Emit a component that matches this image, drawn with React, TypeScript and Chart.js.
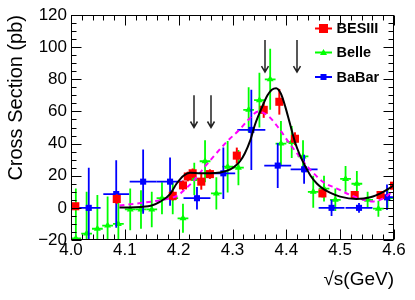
import { useEffect, useRef } from "react";
import { Chart, registerables } from "chart.js";

Chart.register(...registerables);

// ---------- data ----------
const besX = [4.008, 4.085, 4.189, 4.208, 4.217, 4.226, 4.242, 4.258, 4.308, 4.358, 4.387, 4.416, 4.467, 4.527, 4.575, 4.600];
const besY = [1.0, 5.5, 7.5, 14.0, 19.5, 21.5, 16.3, 21.0, 32.5, 61.0, 66.0, 43.0, 9.0, 8.0, 8.0, 13.8];
const besErr = [2, 3, 3, 3, 3, 3, 5, 3, 5, 5, 8, 4, 2.5, 2.5, 2.5, 2.5];

const belleX = [4.009, 4.029, 4.049, 4.068, 4.088, 4.110, 4.130, 4.150, 4.169, 4.189, 4.208, 4.229, 4.249, 4.270, 4.291, 4.311, 4.330, 4.350, 4.370, 4.390, 4.410, 4.431, 4.450, 4.470, 4.491, 4.510, 4.531, 4.551, 4.571, 4.588];
const belleY = [-19, -16, -13, -11, -10, -1, -1, -1, 6, 6, -6.5, 18, 29, 9, 25.6, 25, 61, 67, 80, 40, 41, 32, 10, 12, 5, 18, 15, 5, -0.5, 6];
const belleErr = [31, 26, 21, 18, 16, 13, 12, 11, 10, 10, 9, 10, 13, 10, 16, 11, 14, 17, 19, 14, 10, 10, 10, 8, 7, 8, 8, 5, 5, 6];
const belleXErr = 0.01;

const babarX = [4.033, 4.084, 4.134, 4.184, 4.234, 4.283, 4.335, 4.384, 4.433, 4.484, 4.535, 4.587];
const babarY = [0, 8.6, 16.3, 16.3, 6, 21.5, 48.5, 26.3, 24, 0, 0, 6.6];
const babarErr = [25, 21, 20, 15, 7, 16, 25, 14, 9, 5, 3, 8];
const babarXErr = [0.022, 0.024, 0.025, 0.025, 0.025, 0.022, 0.026, 0.025, 0.025, 0.024, 0.025, 0.015];

const fitX = [4.09, 4.11, 4.13, 4.15, 4.165, 4.184, 4.196, 4.209, 4.221, 4.24, 4.258, 4.277, 4.296, 4.305, 4.314, 4.323, 4.333, 4.342, 4.354, 4.365, 4.373, 4.381, 4.39, 4.398, 4.407, 4.416, 4.425, 4.432, 4.445, 4.457, 4.47, 4.481, 4.5, 4.53, 4.556, 4.58, 4.6];
const fitY = [0.3, 0.3, 0.6, 1.5, 3.7, 8.6, 15, 20, 21.8, 21.5, 21.5, 22, 24, 26, 29, 34, 42, 52, 62, 70, 73.5, 74.5, 71, 63, 52, 41, 33, 28, 20, 15, 11.5, 9.5, 7, 5.5, 6.6, 10, 14];

const dashX = [4.09, 4.13, 4.17, 4.19, 4.2, 4.21, 4.227, 4.246, 4.265, 4.289, 4.314, 4.33, 4.348, 4.367, 4.385, 4.404, 4.422, 4.441, 4.469, 4.494, 4.519, 4.543, 4.562, 4.577, 4.593, 4.6];
const dashY = [1.5, 3, 5, 6.5, 8, 11, 16.5, 24.5, 32, 41, 49, 55, 60, 57, 50, 41, 33, 25, 16, 12, 8, 5, 4, 5.4, 9, 10.5];

const arrowX = [4.229, 4.26, 4.361, 4.42];
const arrowTop = [70, 70, 104.5, 104.5];
const arrowBottom = [50, 50, 84.5, 84.5];

const legendLabels = ["BESIII", "Belle", "BaBar"];
const legendColors = ["#ff0000", "#00ff00", "#0000ff"];

const xMin = 4.0, xMax = 4.6, xStep = 0.1;
const yMin = -20, yMax = 120, yStep = 20;

const FONT = "'Liberation Sans', Arial, Helvetica, sans-serif";

const errorBarPlugin = {
  id: "errbars",
  beforeDatasetDraw(chart: any, args: any) {
    const ds = chart.data.datasets[args.index];
    if (!ds.errY) return;
    const xs = chart.scales.x, ys = chart.scales.y, ctx = chart.ctx, a = chart.chartArea;
    ctx.save();
    ctx.beginPath();
    ctx.rect(a.left, a.top, a.right - a.left, a.bottom - a.top);
    ctx.clip();
    ctx.strokeStyle = ds.errColor;
    ctx.lineWidth = ds.errWidth;
    ds.data.forEach((p: any, i: number) => {
      const px = xs.getPixelForValue(p.x);
      const py = ys.getPixelForValue(p.y);
      const e = ds.errY[i];
      ctx.beginPath();
      ctx.moveTo(px, ys.getPixelForValue(p.y - e));
      ctx.lineTo(px, ys.getPixelForValue(p.y + e));
      if (ds.errX) {
        const ex = Array.isArray(ds.errX) ? ds.errX[i] : ds.errX;
        ctx.moveTo(xs.getPixelForValue(p.x - ex), py);
        ctx.lineTo(xs.getPixelForValue(p.x + ex), py);
      }
      ctx.stroke();
    });
    ctx.restore();
  },
};

const framePlugin = {
  id: "frame",
  afterDatasetsDraw(chart: any) {
    const { ctx, chartArea: a, scales } = chart;
    const xs = scales.x, ys = scales.y;
    ctx.save();
    // arrows
    ctx.strokeStyle = "#222";
    ctx.lineWidth = 1.5;
    arrowX.forEach((ax, i) => {
      const px = Math.round(xs.getPixelForValue(ax));
      const t = ys.getPixelForValue(arrowTop[i]);
      const b = ys.getPixelForValue(arrowBottom[i]);
      ctx.beginPath();
      ctx.moveTo(px, t);
      ctx.lineTo(px, b);
      ctx.moveTo(px - 3.5, b - 6);
      ctx.lineTo(px, b);
      ctx.lineTo(px + 3.5, b - 6);
      ctx.stroke();
    });
    // frame
    ctx.strokeStyle = "#000";
    ctx.lineWidth = 1;
    const L = Math.round(a.left) + 0.5, R = Math.round(a.right) - 0.5;
    const T = Math.round(a.top) + 0.5, B = Math.round(a.bottom) - 0.5;
    ctx.strokeRect(L, T, R - L, B - T);
    ctx.beginPath();
    // y ticks
    for (let v = yMin; v <= yMax + 1e-9; v += yStep / 4) {
      const major = Math.abs(((v - yMin) / yStep) - Math.round((v - yMin) / yStep)) < 1e-6;
      const len = major ? 10 : 5;
      const py = Math.round(ys.getPixelForValue(v)) + 0.5;
      ctx.moveTo(L, py); ctx.lineTo(L + len, py);
      ctx.moveTo(R, py); ctx.lineTo(R - len, py);
    }
    // x ticks
    for (let k = 0; k <= Math.round((xMax - xMin) / (xStep / 5)); k++) {
      const v = xMin + k * (xStep / 5);
      const major = k % 5 === 0;
      const len = major ? 10 : 5;
      const px = Math.round(xs.getPixelForValue(v)) + 0.5;
      ctx.moveTo(px, B); ctx.lineTo(px, B - len);
      ctx.moveTo(px, T); ctx.lineTo(px, T + len);
    }
    ctx.stroke();
    ctx.restore();
  },
  afterDraw(chart: any) {
    const ctx = chart.ctx;
    ctx.save();
    const ys = [28.5, 52.5, 77];
    legendLabels.forEach((lab, i) => {
      const y = ys[i];
      const c = legendColors[i];
      ctx.strokeStyle = c;
      ctx.lineWidth = 2;
      ctx.beginPath();
      ctx.moveTo(315, y);
      ctx.lineTo(332, y);
      ctx.stroke();
      ctx.fillStyle = c;
      if (i === 0) {
        ctx.fillRect(323.5 - 4.5, y - 4.5, 9, 9);
      } else if (i === 1) {
        ctx.beginPath();
        ctx.moveTo(323.5, y - 3.5);
        ctx.lineTo(327, y + 2.5);
        ctx.lineTo(320, y + 2.5);
        ctx.closePath();
        ctx.fill();
      } else {
        ctx.fillRect(323.5 - 3, y - 3, 6, 6);
      }
      ctx.fillStyle = "#000";
      ctx.font = `bold 14.5px ${FONT}`;
      ctx.textBaseline = "middle";
      ctx.textAlign = "left";
      ctx.fillText(lab, 336.5, y + 0.5);
    });
    ctx.restore();
  },
};

export default function App() {
  const ref = useRef<HTMLCanvasElement | null>(null);
  useEffect(() => {
    if (!ref.current) return;
    const chart = new Chart(ref.current, {
      type: "scatter",
      data: {
        datasets: [
          {
            type: "line",
            label: "fit",
            data: fitX.map((x, i) => ({ x, y: fitY[i] })),
            borderColor: "#000",
            borderWidth: 2,
            pointRadius: 0,
            cubicInterpolationMode: "monotone",
            fill: false,
            order: 0,
          } as any,
          {
            type: "line",
            label: "fit2",
            data: dashX.map((x, i) => ({ x, y: dashY[i] })),
            borderColor: "#ff00ff",
            borderWidth: 2,
            borderDash: [5, 4],
            pointRadius: 0,
            cubicInterpolationMode: "monotone",
            fill: false,
            order: 1,
          } as any,
          {
            label: "BESIII",
            data: besX.map((x, i) => ({ x, y: besY[i] })),
            pointStyle: "rect",
            pointRadius: 5.7,
            pointBorderWidth: 0,
            backgroundColor: "#ff0000",
            borderColor: "#ff0000",
            errY: besErr,
            errColor: "#ff0000",
            errWidth: 2,
            order: 2,
          } as any,
          {
            label: "BaBar",
            data: babarX.map((x, i) => ({ x, y: babarY[i] })),
            pointStyle: "rect",
            pointRadius: 4.3,
            pointBorderWidth: 0,
            backgroundColor: "#0000ff",
            borderColor: "#0000ff",
            errY: babarErr,
            errX: babarXErr,
            errColor: "#0000ff",
            errWidth: 1.8,
            order: 3,
          } as any,
          {
            label: "Belle",
            data: belleX.map((x, i) => ({ x, y: belleY[i] })),
            pointStyle: "triangle",
            pointRadius: 4,
            pointBorderWidth: 0,
            backgroundColor: "#00ff00",
            borderColor: "#00ff00",
            errY: belleErr,
            errX: belleXErr,
            errColor: "#00ff00",
            errWidth: 1.8,
            order: 4,
          } as any,
        ],
      },
      options: {
        animation: false,
        responsive: false,
        devicePixelRatio: 1,
        layout: { padding: { top: 15, right: 21, left: 0, bottom: 0 } },
        plugins: { legend: { display: false }, tooltip: { enabled: false } },
        scales: {
          x: {
            type: "linear",
            min: xMin,
            max: xMax,
            grid: { display: false, drawTicks: false },
            border: { display: false },
            ticks: {
              stepSize: xStep,
              padding: 0,
              color: "#000",
              font: { family: FONT, size: 17 },
              maxRotation: 0,
              callback: (v: any) => Number(v).toFixed(1),
            },
            title: {
              display: true,
              text: "√s(GeV)",
              align: "end",
              color: "#000",
              font: { family: FONT, size: 19 },
              padding: { top: 0, bottom: 9 },
            },
            afterFit: (s: any) => { s.height = 60; },
          },
          y: {
            type: "linear",
            min: yMin,
            max: yMax,
            grid: { display: false, drawTicks: false },
            border: { display: false },
            ticks: {
              stepSize: yStep,
              padding: 4,
              color: "#000",
              font: { family: FONT, size: 17 },
              callback: (v: any) => (Number(v) < 0 ? "\u2212" + Math.abs(Number(v)) : String(v)),
            },
            title: {
              display: true,
              text: "Cross Section (pb)",
              align: "end",
              color: "#000",
              font: { family: FONT, size: 20 },
              padding: { top: 4, bottom: 0 },
            },
            afterFit: (s: any) => { s.width = 71; },
          },
        },
      } as any,
      plugins: [errorBarPlugin, framePlugin],
    });
    return () => chart.destroy();
  }, []);
  return (
    <div style={{ position: "fixed", left: 0, top: 0, width: 415, height: 300, background: "#fff" }}>
      <canvas ref={ref} width={415} height={300} style={{ display: "block" }} />
    </div>
  );
}
